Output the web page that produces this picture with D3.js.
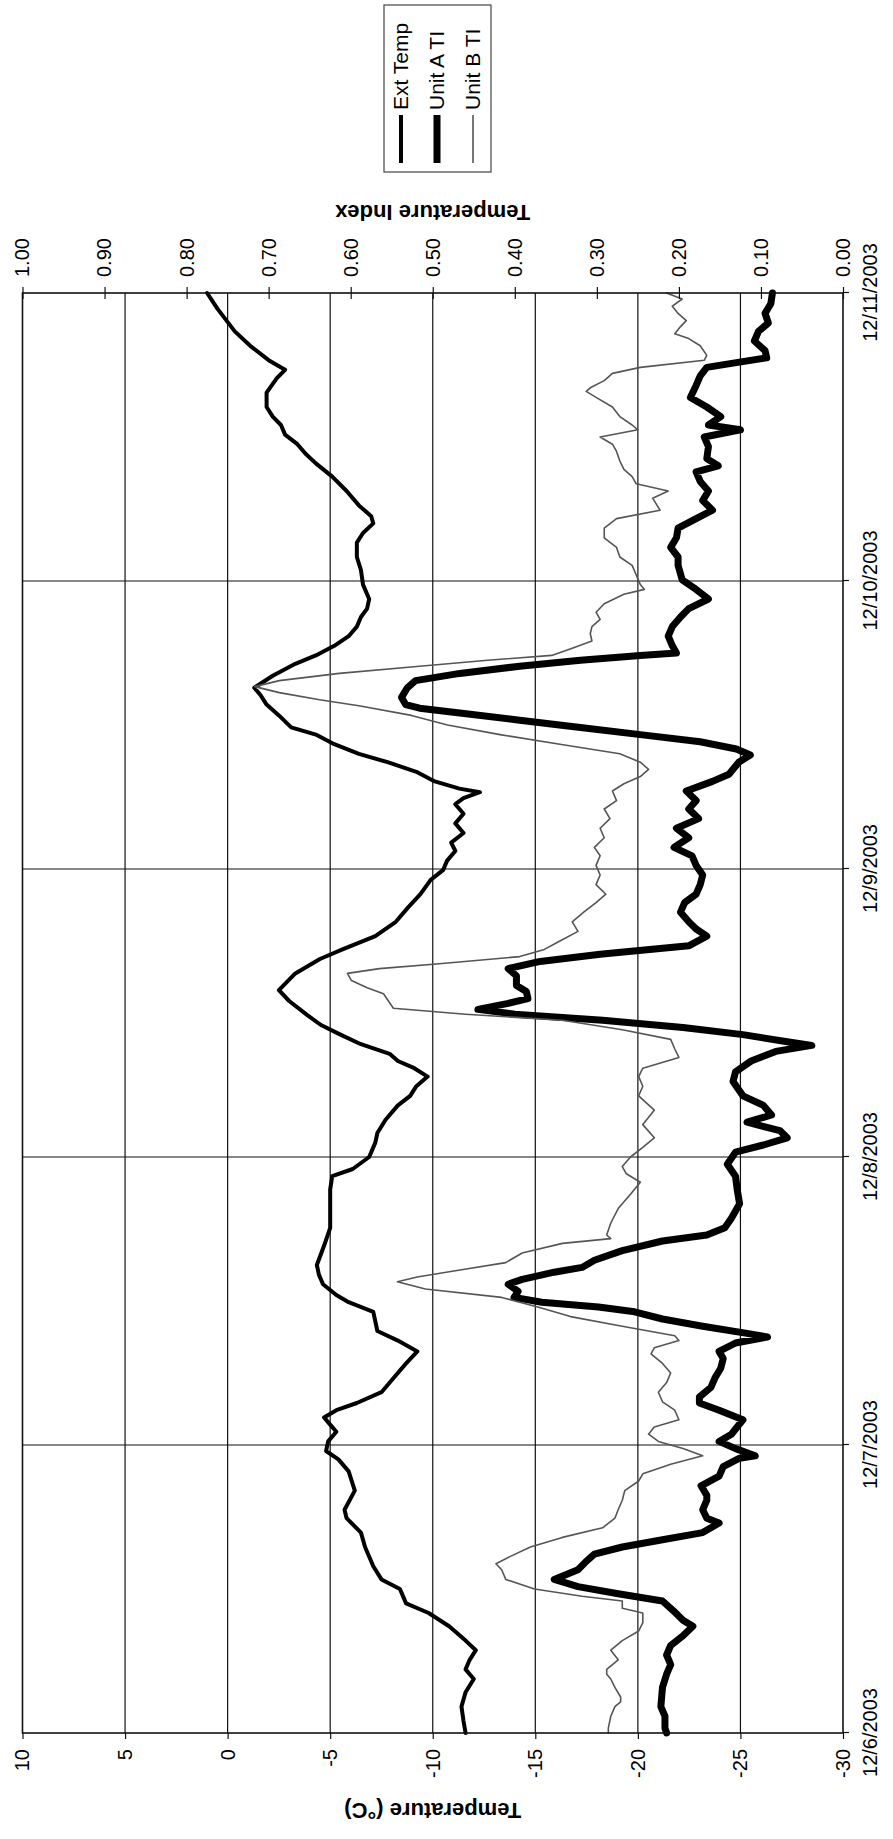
<!DOCTYPE html>
<html>
<head>
<meta charset="utf-8">
<script src="https://cdn.jsdelivr.net/npm/d3@7"></script>
<style>
  html, body { margin: 0; padding: 0; background: #fff; }
  svg { display: block; }
  text { font-family: "Liberation Sans", Arial, sans-serif; fill: #000; }
</style>
</head>
<body>
<svg id="chart" width="893" height="1839"></svg>
<script>
// Hours after 12/6/2003 00:00 and readings for each series
const extHours = [0,1,2.2,3.4,4.5,5.3,6.1,6.9,7.7,8.9,10,10.8,12,12.8,13.9,15.5,16.7,17.9,18.6,20.2,21.8,22.8,23.5,24.3,25.1,25.7,26.3,26.9,27.5,28.4,29.6,30.8,31.8,32.7,33.5,34.3,35.1,35.9,36.5,37.4,38.2,39,40.6,42.1,43.7,45.3,46.4,47,48,49.2,50,51.1,52.3,53.1,53.9,54.7,55.4,56,56.6,57.4,58.2,59,59.8,61,61.9,63.3,64.5,65.3,66.4,67.6,68.8,69.9,71.1,71.9,72.7,73.5,74.2,75,75.8,76.6,77.4,77.9,78.4,78.7,79.3,80.1,80.9,81.6,82.4,83.2,83.8,84.8,85.7,86.5,87.1,88.1,89.1,89.8,90.6,91.4,92.2,93,93.7,94.5,95.7,96.9,98,99.2,100,100.8,101.4,102.3,103.5,104.7,105.8,106.6,107.4,108.2,109,109.7,110.5,111.7,112.9,113.6,114.4,115.6,116.8,118.7,120];
const extTemp = [-11.6,-11.5,-11.4,-11.6,-12,-11.6,-11.8,-12.1,-11.6,-10.8,-9.8,-8.7,-8.4,-7.5,-7.1,-6.7,-6.5,-5.8,-5.7,-6.2,-5.9,-5.4,-4.8,-4.9,-5.3,-5,-4.7,-5.3,-6.3,-7.5,-8.1,-8.7,-9.25,-8.3,-7.3,-7.2,-7.1,-5.9,-5.3,-4.65,-4.45,-4.35,-4.7,-5,-5,-5,-5.1,-6.1,-6.9,-7.2,-7.3,-7.7,-8.3,-8.9,-9.2,-9.75,-9.1,-8.3,-7.9,-6.5,-5.5,-4.55,-3.9,-3,-2.5,-3.3,-4.5,-5.6,-7.2,-8.2,-8.8,-9.4,-9.9,-10.5,-10.7,-11.1,-10.9,-11.5,-11.1,-11.5,-11.1,-11.5,-12.3,-11.3,-10.1,-9.2,-7.8,-6.4,-5.2,-4.3,-3.1,-2.5,-1.9,-1.6,-1.3,-2.2,-3.3,-4.3,-5.2,-5.9,-6.3,-6.5,-6.8,-6.9,-6.6,-6.5,-6.3,-6.3,-6.6,-7.1,-7,-6.4,-5.8,-5.1,-4.3,-3.8,-3.4,-2.8,-2.6,-2.2,-1.9,-1.9,-2.4,-2.8,-2,-1.1,-0.35,0.5,1];

const unitAHours = [0,0.4,1.4,2.2,3,3.8,4.9,5.7,6.5,7.3,8.1,8.9,9.4,10.2,11,11.6,12.2,12.8,13.6,14.3,14.9,15.5,16.1,16.7,17.5,17.9,18.6,19.4,19.8,20.6,21.4,22.2,22.9,23.1,23.7,24.3,24.9,26.1,26.9,27.5,28,28.8,29.6,30.4,31.2,31.8,32.5,33,33.3,33.9,34.5,35.1,35.5,35.9,36.3,36.8,37.4,37.8,38.4,38.8,39.4,40.2,41,41.5,42.1,42.9,44.1,45.3,46.4,47.4,48.4,49,49.6,50.2,50.9,51.5,52.3,53.1,54.3,55.1,56,56.8,57.3,57.6,58.2,58.8,59.4,59.9,60.3,60.8,61.2,61.8,62.3,63.1,63.7,64.3,64.9,65.6,66.4,67,67.6,68.4,69.2,69.9,70.7,71.5,72.3,73.1,73.8,74.6,75.4,76.2,77,77.7,78.5,79.3,79.9,80.9,81.5,82,82.6,83.2,83.8,84.4,85,85.4,85.7,86.3,87.1,87.7,88.3,88.9,89.4,89.8,90,90.6,91.4,92.2,93,93.7,94.5,95.3,96.1,97.3,98,98.8,99.6,100.4,101.2,101.9,102.7,103.5,104.3,105.1,105.6,106.2,107.2,108,108.6,109,109.7,110.5,111.3,112.3,113.1,113.8,114.2,114.6,115.2,116,116.8,117.5,118.3,119.1,120];
const unitATI = [0.215,0.217,0.217,0.222,0.221,0.22,0.215,0.21,0.215,0.21,0.195,0.183,0.195,0.207,0.22,0.274,0.323,0.352,0.323,0.313,0.303,0.269,0.22,0.171,0.151,0.166,0.171,0.166,0.166,0.173,0.151,0.146,0.126,0.107,0.131,0.151,0.136,0.122,0.151,0.175,0.175,0.161,0.156,0.149,0.146,0.151,0.131,0.092,0.117,0.171,0.22,0.254,0.298,0.367,0.401,0.396,0.408,0.391,0.352,0.318,0.303,0.269,0.22,0.166,0.144,0.136,0.126,0.129,0.131,0.141,0.131,0.097,0.068,0.077,0.117,0.087,0.097,0.122,0.134,0.131,0.112,0.082,0.038,0.068,0.122,0.195,0.293,0.4,0.445,0.408,0.384,0.386,0.398,0.398,0.408,0.369,0.296,0.188,0.166,0.179,0.188,0.198,0.193,0.179,0.174,0.171,0.179,0.184,0.206,0.188,0.203,0.176,0.188,0.179,0.191,0.159,0.139,0.127,0.113,0.13,0.174,0.247,0.32,0.394,0.467,0.516,0.533,0.538,0.531,0.521,0.467,0.394,0.32,0.247,0.203,0.208,0.213,0.208,0.198,0.188,0.164,0.179,0.196,0.201,0.201,0.21,0.203,0.201,0.179,0.159,0.171,0.164,0.174,0.179,0.152,0.166,0.164,0.169,0.125,0.164,0.149,0.166,0.186,0.179,0.174,0.166,0.13,0.093,0.095,0.108,0.103,0.091,0.095,0.088,0.086];

const unitBHours = [0,0.4,1.4,2.2,2.6,3,3.8,4.5,4.9,5.3,6.1,6.9,7.7,8.5,9.2,10,10.4,11,11.4,12,12.8,13.6,14.1,14.7,15.5,16.3,17.1,17.9,18.6,19.4,20.2,21,21.6,22.4,23.1,23.7,24.3,24.9,25.5,26.1,26.9,27.6,28.4,29.2,30,30.8,31.6,32.1,32.7,33.1,33.9,34.7,35.5,36.3,37,37.6,38,38.6,39.2,40,40.8,41.2,41.5,42.5,43.7,44.9,45.9,46.6,47.2,48,48.8,49.6,50.7,51.9,53.1,53.9,54.7,55.4,56.3,57,57.8,58.6,59.4,59.9,60.4,60.9,61.6,62.1,62.7,63.3,63.7,64.1,64.7,65.3,66,66.8,67.6,68.4,69.2,69.9,70.7,71.5,72.3,73.1,73.8,74.6,75.4,76.2,77,77.7,78.5,79.1,79.7,80.3,80.9,81.6,82.4,83.2,84,84.8,85.6,86.1,86.7,87.2,87.7,88.3,88.9,89.4,89.8,90.4,91,91.6,92.2,92.8,93.4,94.1,94.9,95.3,95.7,96.5,97.3,98,98.8,99.6,100.4,101.2,101.9,102.9,103.5,104.1,104.7,105.3,106,106.8,107.4,108,108.6,109,109.7,110.5,111.3,111.8,112.1,112.7,113.3,113.8,114.4,114.8,115.6,116.2,116.6,117.2,117.7,118.3,118.9,119.5,120];
const unitBTI = [0.286,0.286,0.283,0.278,0.271,0.271,0.278,0.283,0.288,0.288,0.274,0.283,0.269,0.249,0.244,0.244,0.269,0.269,0.318,0.376,0.411,0.416,0.423,0.406,0.381,0.342,0.293,0.278,0.274,0.269,0.266,0.249,0.244,0.21,0.171,0.195,0.225,0.237,0.23,0.2,0.205,0.22,0.225,0.215,0.21,0.22,0.234,0.23,0.2,0.205,0.269,0.332,0.372,0.416,0.509,0.543,0.519,0.465,0.411,0.391,0.342,0.283,0.288,0.283,0.274,0.259,0.247,0.264,0.269,0.259,0.244,0.23,0.244,0.23,0.249,0.244,0.249,0.244,0.2,0.205,0.21,0.269,0.342,0.46,0.548,0.553,0.56,0.58,0.599,0.604,0.565,0.492,0.394,0.364,0.345,0.323,0.33,0.316,0.301,0.289,0.301,0.296,0.301,0.296,0.303,0.291,0.296,0.284,0.291,0.276,0.281,0.267,0.247,0.237,0.247,0.272,0.345,0.418,0.482,0.526,0.59,0.638,0.687,0.717,0.687,0.614,0.516,0.433,0.355,0.33,0.306,0.308,0.306,0.296,0.301,0.291,0.267,0.242,0.247,0.252,0.257,0.272,0.276,0.291,0.291,0.276,0.223,0.232,0.213,0.252,0.257,0.267,0.272,0.276,0.281,0.296,0.25,0.257,0.272,0.281,0.301,0.313,0.308,0.291,0.281,0.247,0.169,0.166,0.174,0.188,0.205,0.198,0.191,0.201,0.208,0.196,0.215];

// Axis tick values
const tempTicks = [-30,-25,-20,-15,-10,-5,0,5,10];
const indexTicks = [0,0.1,0.2,0.3,0.4,0.5,0.6,0.7,0.8,0.9,1.0];
const seriesNames = ["Ext Temp", "Unit A TI", "Unit B TI"];

const W = 1839, H = 893;           // chart drawn landscape, then turned onto the page
const plot = {left: 106, right: 1546, top: 22.5, bottom: 843};
const start = Date.UTC(2003, 11, 6);
const hourMs = 3600 * 1000;

const svg = d3.select("#chart");
svg.append("rect").attr("width", 893).attr("height", 1839).attr("fill", "#fff");

const g = svg.append("g").attr("transform", `translate(0,${W}) rotate(-90)`);

const x = d3.scaleUtc()
  .domain([new Date(start), new Date(start + 120 * hourMs)])
  .range([plot.left, plot.right]);
const yT = d3.scaleLinear().domain([-30, 10]).range([plot.bottom, plot.top]);
const yI = d3.scaleLinear().domain([0, 1]).range([plot.bottom, plot.top]);

const days = d3.utcDay.range(new Date(start), new Date(start + 120 * hourMs + 1));

// gridlines
const grid = g.append("g").attr("stroke", "#111").attr("stroke-width", 1.2);
grid.selectAll("line.t").data(tempTicks.slice(1, -1)).join("line")
  .attr("x1", plot.left).attr("x2", plot.right)
  .attr("y1", d => yT(d)).attr("y2", d => yT(d));
grid.selectAll("line.d").data(days.slice(1, -1)).join("line")
  .attr("y1", plot.top).attr("y2", plot.bottom)
  .attr("x1", d => x(d)).attr("x2", d => x(d));

// series
const toDate = h => new Date(start + h * hourMs);
const series = [
  {name: seriesNames[0], hours: extHours, vals: extTemp, y: yT, width: 4, color: "#000"},
  {name: seriesNames[1], hours: unitAHours, vals: unitATI, y: yI, width: 7, color: "#000"},
  {name: seriesNames[2], hours: unitBHours, vals: unitBTI, y: yI, width: 1.6, color: "#555"}
];
const lines = g.append("g").attr("fill", "none").attr("stroke-linejoin", "round").attr("stroke-linecap", "round");
series.forEach(s => {
  const pts = s.hours.map((h, i) => [toDate(h), s.vals[i]]);
  const line = d3.line().x(d => x(d[0])).y(d => s.y(d[1]));
  lines.append("path").datum(pts)
    .attr("d", line)
    .attr("stroke", s.color)
    .attr("stroke-width", s.width);
});

// plot frame
g.append("rect")
  .attr("x", plot.left).attr("y", plot.top)
  .attr("width", plot.right - plot.left).attr("height", plot.bottom - plot.top)
  .attr("fill", "none").attr("stroke", "#111").attr("stroke-width", 1.6);

// axes
function styleAxis(sel) {
  sel.select(".domain").remove();
  sel.selectAll(".tick line").attr("stroke", "#111").attr("stroke-width", 1.2);
  sel.selectAll(".tick text").style("font-size", "20px").attr("fill", "#000");
}
g.append("g").attr("transform", `translate(${plot.left},0)`)
  .call(d3.axisLeft(yT).tickValues(tempTicks).tickSize(6).tickPadding(10).tickFormat(d3.format("d")))
  .call(styleAxis)
  .selectAll(".tick text").text(d => d < 0 ? "-" + Math.abs(d) : String(d));

g.append("g").attr("transform", `translate(${plot.right},0)`)
  .call(d3.axisRight(yI).tickValues(indexTicks).tickSizeInner(6).tickPadding(10).tickFormat(d3.format(".2f")))
  .call(styleAxis)
  .call(sel => sel.selectAll(".tick line").attr("x1", -6));

g.append("g").attr("transform", `translate(0,${plot.bottom})`)
  .call(d3.axisBottom(x).tickValues(days).tickSize(6).tickPadding(14).tickFormat(d3.utcFormat("%-m/%-d/%Y")))
  .call(styleAxis);

// axis titles
g.append("text")
  .attr("transform", `translate(28,${(plot.top + plot.bottom) / 2}) rotate(-90)`)
  .attr("text-anchor", "middle").attr("dy", "0.35em")
  .style("font-size", "22px").style("font-weight", "bold")
  .text("Temperature (°C)");
g.append("text")
  .attr("transform", `translate(1626,${(plot.top + plot.bottom) / 2}) rotate(-90)`)
  .attr("text-anchor", "middle").attr("dy", "0.35em")
  .style("font-size", "22px").style("font-weight", "bold")
  .text("Temperature Index");

// legend
const legend = g.append("g").attr("transform", "translate(1667,384)");
legend.append("rect").attr("width", 167).attr("height", 107)
  .attr("fill", "#fff").attr("stroke", "#444").attr("stroke-width", 1.2);
series.forEach((s, i) => {
  const cy = 17 + i * 36;
  legend.append("line")
    .attr("x1", 9).attr("x2", 57).attr("y1", cy).attr("y2", cy)
    .attr("stroke", s.color).attr("stroke-width", s.width);
  legend.append("text")
    .attr("x", 62).attr("y", cy).attr("dy", "0.35em")
    .style("font-size", "21px")
    .text(s.name);
});
</script>
</body>
</html>
